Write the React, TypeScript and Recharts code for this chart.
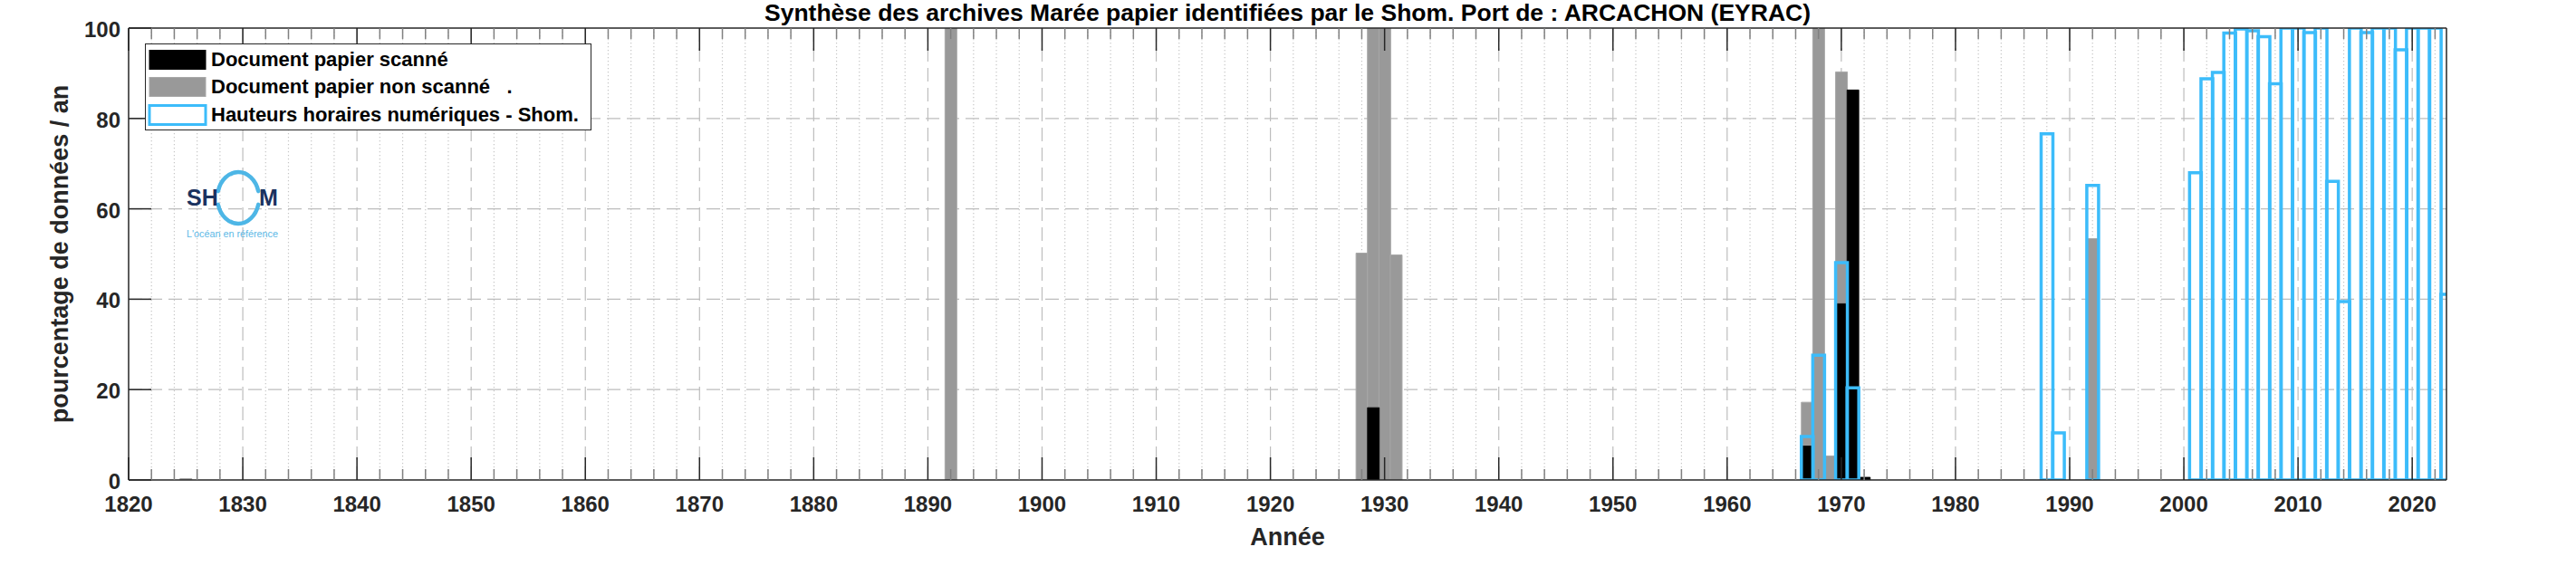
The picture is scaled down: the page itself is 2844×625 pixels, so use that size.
import React from 'react';
import { BarChart, Bar, XAxis, YAxis, CartesianGrid, Legend } from 'recharts';

// ---------- data ----------
const FIRST_YEAR = 1820;
const LAST_YEAR = 2023;
const YEARS: number[] = [];
for (let y = FIRST_YEAR; y <= LAST_YEAR; y++) YEARS.push(y);

const X_MAJOR_TICKS = [1820, 1830, 1840, 1850, 1860, 1870, 1880, 1890, 1900, 1910, 1920, 1930, 1940, 1950, 1960, 1970, 1980, 1990, 2000, 2010, 2020];
const X_ALL_TICKS: number[] = [];
for (let y = FIRST_YEAR; y <= LAST_YEAR; y += 2) X_ALL_TICKS.push(y);
const X_MINOR_GRID = X_ALL_TICKS.filter((y) => y % 10 !== 0);
const X_MAJOR_GRID = X_MAJOR_TICKS.filter((y) => y !== FIRST_YEAR);
const Y_TICKS = [0, 20, 40, 60, 80, 100];
const Y_GRID = [20, 40, 60, 80];

const SCANNED_YEARS = [1929, 1967, 1970, 1971, 1972];
const SCANNED_VALUES = [16, 7.5, 39, 86.3, 0.6];

const UNSCANNED_YEARS = [1825, 1892, 1928, 1929, 1930, 1931, 1967, 1968, 1969, 1970, 1992];
const UNSCANNED_VALUES = [0.3, 100, 50.2, 100, 100, 49.8, 17.2, 100, 5.3, 90.3, 53.4];

const DIGITAL_YEARS = [1967, 1968, 1970, 1971, 1988, 1989, 1992, 2001, 2002, 2003, 2004, 2005, 2006, 2007, 2008, 2009, 2010, 2011, 2012, 2013, 2014, 2015, 2016, 2017, 2018, 2019, 2020, 2021, 2022, 2023];
const DIGITAL_VALUES = [9.6, 27.6, 48.1, 20.4, 76.6, 10.4, 65.2, 68.0, 88.8, 90.2, 98.9, 99.8, 99.4, 98.1, 87.7, 100, 100, 99.0, 100, 66.1, 39.5, 100, 99.0, 100, 100, 95.2, 100, 100, 100, 41.1];

const TITLE = 'Synthèse des archives Marée papier identifiées par le Shom. Port de : ARCACHON (EYRAC)';
const X_LABEL = 'Année';
const Y_LABEL = 'pourcentage de données / an';
const LEGEND_LABELS = ['Document papier scanné', 'Document papier non scanné   .', 'Hauteurs horaires numériques - Shom.'];

// ---------- styles ----------
const FONT = '"Liberation Sans", Arial, Helvetica, sans-serif';
const AXIS_COLOR = '#262626';
const MINOR_TICK_COLOR = '#808080';
const GRAY = '#999999';
const GRAY_EDGE = '#a8a8a8';
const BLUE = '#3cbcfa';

const toMap = (years: number[], values: number[]) => {
  const m = new Map<number, number>();
  years.forEach((y, i) => m.set(y, values[i]));
  return m;
};
const scannedMap = toMap(SCANNED_YEARS, SCANNED_VALUES);
const unscannedMap = toMap(UNSCANNED_YEARS, UNSCANNED_VALUES);
const digitalMap = toMap(DIGITAL_YEARS, DIGITAL_VALUES);

const data = YEARS.map((year) => ({
  year,
  unscanned: unscannedMap.has(year) ? unscannedMap.get(year) : null,
  scanned: scannedMap.has(year) ? scannedMap.get(year) : null,
  digital: digitalMap.has(year) ? digitalMap.get(year) : null,
}));

const MAJOR_LEN = 25;
const MINOR_LEN = 12;

const BottomTick = (props: any) => {
  const { x, y, payload } = props;
  const major = payload.value % 10 === 0;
  return (
    <g>
      <line x1={x} x2={x} y1={y} y2={y - (major ? MAJOR_LEN : MINOR_LEN)} stroke={major ? AXIS_COLOR : MINOR_TICK_COLOR} strokeWidth={1.5} />
      {major && (
        <text x={x} y={y + 35} textAnchor="middle" fontFamily={FONT} fontWeight={700} fontSize={24} fill={AXIS_COLOR}>
          {payload.value}
        </text>
      )}
    </g>
  );
};

const TopTick = (props: any) => {
  const { x, y, payload } = props;
  const major = payload.value % 10 === 0;
  return (
    <line x1={x} x2={x} y1={y} y2={y + (major ? MAJOR_LEN : MINOR_LEN)} stroke={major ? AXIS_COLOR : MINOR_TICK_COLOR} strokeWidth={1.5} />
  );
};

const Y_TICK_MARGIN = 9;
const LeftTick = (props: any) => {
  const { x, y, payload } = props;
  return (
    <g>
      <line x1={x + Y_TICK_MARGIN} x2={x + Y_TICK_MARGIN + MAJOR_LEN} y1={y} y2={y} stroke={AXIS_COLOR} strokeWidth={1.5} />
      <text x={x} y={y + 10} textAnchor="end" fontFamily={FONT} fontWeight={700} fontSize={24} fill={AXIS_COLOR}>
        {payload.value}
      </text>
    </g>
  );
};

const TitleLabel = (props: any) => {
  const vb = props.viewBox || {};
  return (
    <text x={vb.x + vb.width / 2} y={vb.y - 8} textAnchor="middle" fontFamily={FONT} fontWeight={700} fontSize={26.5} fill="#000">
      {TITLE}
    </text>
  );
};

const XLabel = (props: any) => {
  const vb = props.viewBox || {};
  return (
    <text x={vb.x + vb.width / 2} y={vb.y + 72} textAnchor="middle" fontFamily={FONT} fontWeight={700} fontSize={27} fill={AXIS_COLOR}>
      {X_LABEL}
    </text>
  );
};

const YLabel = (props: any) => {
  const vb = props.viewBox || {};
  const cx = vb.x + 33;
  const cy = vb.y + vb.height / 2;
  return (
    <text x={cx} y={cy} transform={`rotate(-90, ${cx}, ${cy})`} textAnchor="middle" fontFamily={FONT} fontWeight={700} fontSize={27} fill={AXIS_COLOR}>
      {Y_LABEL}
    </text>
  );
};

const SWATCHES = [
  { fill: '#000000', stroke: '#000000', strokeWidth: 1 },
  { fill: GRAY, stroke: GRAY_EDGE, strokeWidth: 1 },
  { fill: 'none', stroke: BLUE, strokeWidth: 3 },
];

const LegendBox = () => (
  <div
    style={{
      boxSizing: 'border-box',
      width: 493,
      height: 96,
      border: `1px solid ${AXIS_COLOR}`,
      background: '#fff',
      position: 'relative',
      fontFamily: FONT,
      fontWeight: 700,
      fontSize: 22,
      color: '#000',
    }}
  >
    {LEGEND_LABELS.map((label, i) => (
      <div
        key={label}
        style={{ position: 'absolute', left: 4, top: 2 + i * 30.3, height: 30, display: 'flex', alignItems: 'center', whiteSpace: 'pre' }}
      >
        <svg width={62} height={30} style={{ overflow: 'visible', display: 'block' }}>
          <rect x={0} y={4.5} width={62} height={21} fill={SWATCHES[i].fill} stroke={SWATCHES[i].stroke} strokeWidth={SWATCHES[i].strokeWidth} />
        </svg>
        <span style={{ marginLeft: 6, lineHeight: '30px' }}>{label}</span>
      </div>
    ))}
  </div>
);

const ShomLogo = () => (
  <svg width={130} height={90} style={{ position: 'absolute', left: 195, top: 183 }}>
    <path d="M 45.8 28.1 A 23 28.5 0 0 1 90.2 28.1" fill="none" stroke="#4db6e6" strokeWidth={4.5} strokeLinecap="round" />
    <path d="M 90.2 42.9 A 23 28.5 0 0 1 45.8 42.9" fill="none" stroke="#4db6e6" strokeWidth={4.5} strokeLinecap="round" />
    <text x={11} y={44} fontFamily={FONT} fontWeight={700} fontSize={25} fill="#1a325f">SH</text>
    <text x={91} y={44} fontFamily={FONT} fontWeight={700} fontSize={25} fill="#1a325f">M</text>
    <text x={11} y={79} fontFamily={FONT} fontSize={10} fill="#5cb8e6" textLength={101} lengthAdjust="spacingAndGlyphs">L'océan en référence</text>
  </svg>
);

export default function App() {
  return (
    <div style={{ position: 'absolute', left: 0, top: 0, width: 2844, height: 625, background: '#fff' }}>
      <BarChart
        width={2844}
        height={625}
        data={data}
        margin={{ top: 31, right: 143, bottom: 35, left: 42 }}
        barCategoryGap={0}
        barGap={0}
      >
        <CartesianGrid
          xAxisId="x"
          yAxisId="y"
          horizontalValues={Y_GRID}
          verticalValues={X_MAJOR_GRID}
          stroke="#bdbdbd"
          strokeWidth={1.2}
          strokeDasharray="15 7"
        />
        <CartesianGrid
          xAxisId="x"
          yAxisId="y"
          horizontal={false}
          verticalValues={X_MINOR_GRID}
          stroke="#c6c6c6"
          strokeWidth={1.2}
          strokeDasharray="1.3 2.7"
        />
        <Bar dataKey="unscanned" xAxisId="x" yAxisId="y" fill={GRAY} stroke={GRAY_EDGE} strokeWidth={1} isAnimationActive={false} />
        <Bar dataKey="scanned" xAxisId="xk" yAxisId="y" fill="#000" stroke="#000" strokeWidth={0.8} isAnimationActive={false} />
        <Bar dataKey="digital" xAxisId="xb" yAxisId="y" fill="none" stroke={BLUE} strokeWidth={3.5} isAnimationActive={false} />

        <XAxis
          xAxisId="x"
          dataKey="year"
          type="number"
          domain={[FIRST_YEAR, LAST_YEAR]}
          allowDataOverflow
          ticks={X_ALL_TICKS}
          interval={0}
          tickLine={false}
          tickSize={0}
          tickMargin={0}
          height={60}
          tick={BottomTick}
          axisLine={{ stroke: AXIS_COLOR, strokeWidth: 1.5 }}
          label={{ content: XLabel }}
        />
        <XAxis xAxisId="xk" dataKey="year" type="number" domain={[FIRST_YEAR, LAST_YEAR]} allowDataOverflow hide />
        <XAxis xAxisId="xb" dataKey="year" type="number" domain={[FIRST_YEAR, LAST_YEAR]} allowDataOverflow hide />
        <XAxis
          xAxisId="top"
          dataKey="year"
          orientation="top"
          mirror
          height={1}
          type="number"
          domain={[FIRST_YEAR, LAST_YEAR]}
          allowDataOverflow
          ticks={X_ALL_TICKS}
          interval={0}
          tickLine={false}
          tickSize={0}
          tickMargin={0}
          tick={TopTick}
          axisLine={{ stroke: AXIS_COLOR, strokeWidth: 1.5 }}
          label={{ content: TitleLabel }}
        />
        <YAxis
          yAxisId="y"
          type="number"
          domain={[0, 100]}
          allowDataOverflow
          ticks={Y_TICKS}
          interval={0}
          width={100}
          tickLine={false}
          tickSize={0}
          tickMargin={Y_TICK_MARGIN}
          tick={LeftTick}
          axisLine={{ stroke: AXIS_COLOR, strokeWidth: 1.5 }}
          label={{ content: YLabel }}
        />
        <YAxis
          yAxisId="r"
          orientation="right"
          mirror
          width={1}
          type="number"
          domain={[0, 100]}
          allowDataOverflow
          ticks={Y_TICKS}
          interval={0}
          tick={false}
          tickSize={MAJOR_LEN}
          tickLine={{ stroke: AXIS_COLOR, strokeWidth: 1.5 }}
          axisLine={{ stroke: AXIS_COLOR, strokeWidth: 1.5 }}
        />
        <Legend
          content={LegendBox}
          layout="vertical"
          align="center"
          verticalAlign="middle"
          wrapperStyle={{ left: 160, top: 48, width: 493, height: 96 }}
        />
      </BarChart>
      <ShomLogo />
    </div>
  );
}
